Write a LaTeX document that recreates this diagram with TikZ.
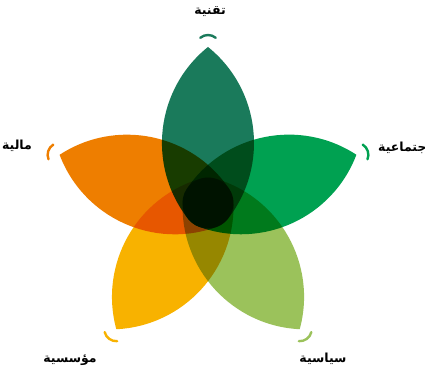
\documentclass[tikz,border=0pt]{standalone}
\usepackage{fontspec}
\newfontfamily\arabicfont[Script=Arabic]{DejaVu Sans}
\TeXXeTstate=1
\definecolor{cTop}{RGB}{26,122,91}
\definecolor{cRight}{RGB}{0,161,81}
\definecolor{cBR}{RGB}{155,194,91}
\definecolor{cBL}{RGB}{248,178,0}
\definecolor{cLeft}{RGB}{238,126,0}
\tikzset{
  petal/.pic={
    \fill[pic actions] (0,156) arc[start angle=51.2, end angle=-37.9, radius=123.2]
      arc[start angle=-37.9, end angle=-142.1, radius=25.4]
      arc[start angle=217.9, end angle=128.8, radius=123.2] -- cycle;
  },
  tipmark/.style={line width=2.4pt, line cap=round},
  lbl/.style={inner sep=0pt, font=\arabicfont\bfseries\fontsize{12.5}{14}\selectfont}
}
\begin{document}
\begin{tikzpicture}[x=1pt,y=1pt]
\useasboundingbox (0,0) rectangle (425,371);
\coordinate (C) at (208,168);
\begin{scope}[shift={(C)}]
  \begin{scope}[blend group=multiply]
    \pic[fill=cTop,rotate=0] {petal};
    \pic[fill=cRight,rotate=-72] {petal};
    \pic[fill=cBR,rotate=-144] {petal};
    \pic[fill=cBL,rotate=144] {petal};
    \pic[fill=cLeft,rotate=72] {petal};
  \end{scope}
  \foreach \nm/\ang/\col in {tT/90/cTop, tR/18/cRight, tBR/-54/cBR, tBL/-126/cBL, tL/162/cLeft}{
    \coordinate (\nm) at (\ang:156);
    \draw[tipmark, \col] (\nm) ++(\ang-40:12) arc[start angle=\ang-40, end angle=\ang+40, radius=12];
  }
\end{scope}
\node[lbl] (lT) at (210,359) {\beginR تقنية\endR};
\node[lbl, anchor=west] (lR) at (378,223) {\beginR اجتماعية\endR};
\node[lbl] (lBR) at (323,12) {\beginR سياسية\endR};
\node[lbl] (lBL) at (70,11) {\beginR مؤسسية\endR};
\node[lbl] (lL) at (17,225) {\beginR مالية\endR};
\end{tikzpicture}
\end{document}
